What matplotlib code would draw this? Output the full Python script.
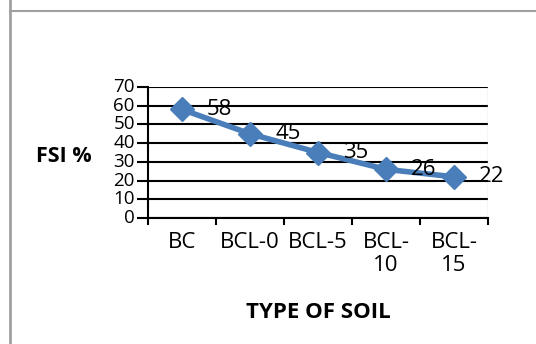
import matplotlib
matplotlib.use("Agg")
import matplotlib.pyplot as plt
from matplotlib.lines import Line2D

soils = ["BC", "BCL-0", "BCL-5", "BCL-\n10", "BCL-\n15"]
fsi = [58, 45, 35, 26, 22]

plt.rcParams['font.family'] = ['Open Sans', 'DejaVu Sans']

fig = plt.figure(figsize=(5.36, 3.44), dpi=100)
W, H = 536, 344
ax = fig.add_axes([148 / W, 1 - 218 / H, 340 / W, 131 / H])

xs = [i + 0.5 for i in range(len(fsi))]
ax.plot(xs, fsi, color='#4a7ebb', lw=4, marker='D', ms=12, zorder=3)
for x, v in zip(xs, fsi):
    ax.annotate(str(v), (x, v), xytext=(18, 0), textcoords='offset points',
                va='center', ha='left', fontsize=16, color='black', zorder=4)

ax.set_xlim(0, len(fsi))
ax.set_ylim(0, 70)
ax.set_yticks(range(0, 71, 10))
ax.set_xticks(range(len(fsi) + 1))
ax.set_xticklabels([])
ax.set_xticks(xs, minor=True)
ax.set_xticklabels(soils, minor=True, fontsize=16, va='top', linespacing=1.15)
ax.tick_params(axis='x', which='minor', length=0, pad=10)
ax.tick_params(axis='x', which='major', length=5, width=1.5, direction='out')
ax.tick_params(axis='y', length=8, width=1.5, labelsize=13.5, pad=1.5)
for lbl in ax.get_yticklabels():
    lbl.set_verticalalignment('center')

ax.yaxis.grid(True, color='black', lw=1.5)
ax.set_axisbelow(True)
for side in ['top', 'right']:
    ax.spines[side].set_visible(False)
ax.spines['left'].set_linewidth(1.5)
ax.spines['bottom'].set_linewidth(1.5)
ax.axvline(len(fsi), color='#d0d0d0', lw=1, zorder=1)

fig.text(36 / W, 1 - 157 / H, "FSI %", fontsize=15.5, fontweight='bold',
         ha='left', va='center')
fig.text(318 / W, 1 - 313 / H, "TYPE OF SOIL", fontsize=16, fontweight='bold',
         ha='center', va='center')

# outer frame
fig.add_artist(Line2D([10 / W, 10 / W], [0, 1], color='#a0a0a0', lw=2))
fig.add_artist(Line2D([10 / W, 1], [1 - 11 / H, 1 - 11 / H], color='#a0a0a0', lw=1.5))

fig.savefig("out.png", dpi=100)
